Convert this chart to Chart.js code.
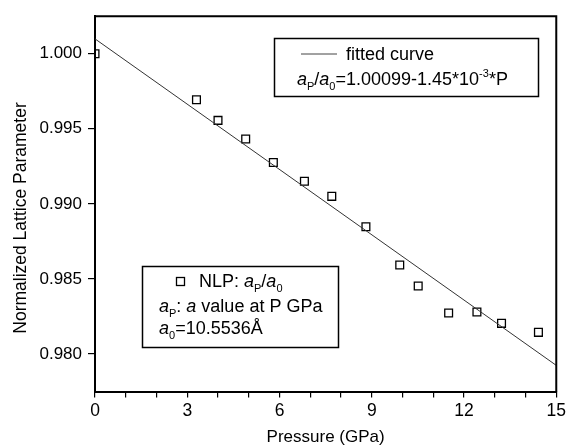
<!DOCTYPE html>
<html>
<head>
    <title>Normalized Lattice Parameter vs Pressure</title>
    <script src="https://cdn.jsdelivr.net/npm/chart.js"></script>
    <style>
        body { margin: 0; background: #fff; }
        #wrap { width: 569px; height: 445px; }
    </style>
</head>
<body>
    <div id="wrap">
        <canvas id="latticeChart" width="569" height="445"></canvas>
    </div>

    <script>
        // measured points (NLP: a_P / a_0)
        const pressure = [0, 3.30, 4.00, 4.90, 5.80, 6.81, 7.70, 8.81, 9.91, 10.51, 11.50, 12.42, 13.22, 14.42];
        const nlp = [1.0000, 0.99694, 0.99556, 0.99432, 0.99276, 0.99150, 0.99050, 0.98848, 0.98593, 0.98453, 0.98273, 0.98280, 0.98204, 0.98144];

        // fitted curve end points: a_P/a_0 = 1.00099 - 1.45e-3 * P
        const fitP = [0, 15];
        const fitVal = [1.00099, 0.97924];

        const xTicks = [0, 1, 2, 3, 4, 5, 6, 7, 8, 9, 10, 11, 12, 13, 14, 15];
        const yTicks = [0.980, 0.985, 0.990, 0.995, 1.000];

        const FONT = '"Liberation Sans", Arial, sans-serif';

        // draws a run of text pieces: n = normal, i = italic, sub / sup
        function drawRich(ctx, x, y, parts, size) {
            parts.forEach(([txt, style]) => {
                let fs = size, dy = 0, it = '';
                if (style === 'i') it = 'italic ';
                if (style === 'sub') { fs = Math.round(size * 0.6); dy = 5; }
                if (style === 'sup') { fs = Math.round(size * 0.6); dy = -8; }
                ctx.font = it + fs + 'px ' + FONT;
                ctx.fillText(txt, x, y + dy);
                x += ctx.measureText(txt).width;
            });
        }

        const decorations = {
            id: 'decorations',
            afterDraw(chart) {
                const ctx = chart.ctx;
                const a = chart.chartArea;
                ctx.save();
                ctx.strokeStyle = '#000';
                ctx.fillStyle = '#000';

                // top and right frame
                ctx.lineWidth = 2;
                ctx.beginPath();
                ctx.moveTo(a.left, a.top);
                ctx.lineTo(a.right, a.top);
                ctx.lineTo(a.right, a.bottom);
                ctx.stroke();

                // axis titles
                ctx.textBaseline = 'alphabetic';
                ctx.textAlign = 'center';
                ctx.font = '17px ' + FONT;
                ctx.fillText('Pressure (GPa)', (a.left + a.right) / 2, 442);
                ctx.save();
                ctx.translate(26, 218);
                ctx.rotate(-Math.PI / 2);
                ctx.font = '17.5px ' + FONT;
                ctx.fillText('Normalized Lattice Parameter', 0, 0);
                ctx.restore();

                ctx.textAlign = 'left';

                // legend box: fitted curve
                ctx.lineWidth = 1.5;
                ctx.strokeRect(274.5, 38.5, 264, 58);
                ctx.strokeStyle = '#444';
                ctx.lineWidth = 1;
                ctx.beginPath();
                ctx.moveTo(301, 54);
                ctx.lineTo(337, 54);
                ctx.stroke();
                ctx.font = '18px ' + FONT;
                ctx.fillText('fitted curve', 346, 60);
                drawRich(ctx, 297, 85, [
                    ['a', 'i'], ['P', 'sub'], ['/', 'n'], ['a', 'i'], ['0', 'sub'],
                    ['=1.00099-1.45*10', 'n'], ['-3', 'sup'], ['*P', 'n']
                ], 18);

                // legend box: data
                ctx.strokeStyle = '#000';
                ctx.lineWidth = 1.5;
                ctx.strokeRect(142.5, 266.5, 196, 81);
                ctx.lineWidth = 1.3;
                ctx.strokeRect(176.5, 277.5, 8, 8);
                drawRich(ctx, 199, 287, [['NLP: ', 'n'], ['a', 'i'], ['P', 'sub'], ['/', 'n'], ['a', 'i'], ['0', 'sub']], 18);
                drawRich(ctx, 159, 312, [['a', 'i'], ['P', 'sub'], [': ', 'n'], ['a', 'i'], [' value at P GPa', 'n']], 18);
                drawRich(ctx, 159, 334, [['a', 'i'], ['0', 'sub'], ['=10.5536\u00C5', 'n']], 18);

                ctx.restore();
            }
        };

        const ctx = document.getElementById('latticeChart').getContext('2d');
        new Chart(ctx, {
            type: 'scatter',
            data: {
                datasets: [
                    {
                        label: 'fitted curve',
                        type: 'line',
                        data: fitP.map((p, i) => ({ x: p, y: fitVal[i] })),
                        borderColor: '#333',
                        borderWidth: 1,
                        pointRadius: 0,
                        fill: false,
                        clip: 0
                    },
                    {
                        label: 'NLP',
                        data: pressure.map((p, i) => ({ x: p, y: nlp[i] })),
                        pointStyle: 'rect',
                        pointRadius: 5.5,
                        pointBorderWidth: 1.3,
                        pointBorderColor: '#000',
                        pointBackgroundColor: 'rgba(255,255,255,0)',
                        clip: 0
                    }
                ]
            },
            options: {
                responsive: false,
                animation: false,
                layout: { padding: { left: 0, top: 15, right: 9, bottom: 0 } },
                plugins: {
                    legend: { display: false },
                    tooltip: { enabled: false }
                },
                scales: {
                    x: {
                        type: 'linear',
                        min: 0,
                        max: 15,
                        afterBuildTicks: s => { s.ticks = xTicks.map(v => ({ value: v })); },
                        afterFit: s => { s.height = 53.5; },
                        ticks: {
                            autoSkip: false,
                            maxRotation: 0,
                            padding: 3,
                            color: '#000',
                            font: { family: FONT, size: 17.5 },
                            callback: v => (v % 3 === 0 ? v : '')
                        },
                        grid: { drawOnChartArea: false, drawTicks: true, tickLength: 6, color: '#000', lineWidth: 1.2 },
                        border: { display: true, color: '#000', width: 2 }
                    },
                    y: {
                        min: 0.9775,
                        max: 1.0025,
                        afterBuildTicks: s => { s.ticks = yTicks.map(v => ({ value: v })); },
                        afterFit: s => { s.width = 95; },
                        ticks: {
                            padding: 6,
                            color: '#000',
                            font: { family: FONT, size: 17 },
                            callback: v => v.toFixed(3)
                        },
                        grid: { drawOnChartArea: false, drawTicks: true, tickLength: 7, color: '#000', lineWidth: 1.2 },
                        border: { display: true, color: '#000', width: 2 }
                    }
                }
            },
            plugins: [decorations]
        });
    </script>
</body>
</html>
